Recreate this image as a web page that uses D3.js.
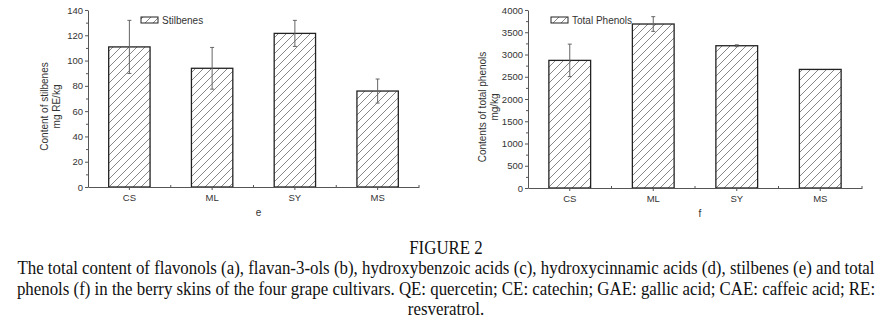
<!DOCTYPE html>
<html>
<head>
<meta charset="utf-8">
<script src="https://cdn.jsdelivr.net/npm/d3@7"></script>
<style>
  body { margin: 0; background: #fff; }
  svg { display: block; }
  .tick text { font-family: "Liberation Sans", Arial, sans-serif; font-size: 9.5px; fill: #333; }
  .lab { font-family: "Liberation Sans", Arial, sans-serif; font-size: 10px; fill: #333; }
  .cap { font-family: "Liberation Serif", "Times New Roman", serif; font-size: 18.5px; fill: #111; }
</style>
</head>
<body>
<div id="box-div"></div>
<script>
// data
const cultivars = ['CS', 'ML', 'SY', 'MS']
const stilbenes = [110.8, 93.9, 121.5, 75.9]
const stilbenesErr = [21, 16.5, 10.3, 9.5]
const totalPhenols = [2868, 3685, 3197, 2665]
const totalPhenolsErr = [365, 165, 20, 0]
const stilbeneTicks = [0, 20, 40, 60, 80, 100, 120, 140]
const phenolTicks = [0, 500, 1000, 1500, 2000, 2500, 3000, 3500, 4000]
const captionLines = [
    'FIGURE 2',
    'The total content of flavonols (a), flavan-3-ols (b), hydroxybenzoic acids (c), hydroxycinnamic acids (d), stilbenes (e) and total',
    'phenols (f) in the berry skins of the four grape cultivars. QE: quercetin; CE: catechin; GAE: gallic acid; CAE: caffeic acid; RE:',
    'resveratrol.'
]

const W = 892, H = 331
const svg = d3.select('#box-div').append('svg')
    .attr('width', W)
    .attr('height', H)

// hatch pattern
const defs = svg.append('defs')
defs.append('pattern')
    .attr('id', 'hatch')
    .attr('patternUnits', 'userSpaceOnUse')
    .attr('width', 8)
    .attr('height', 8)
    .append('path')
    .attr('d', 'M-2,2 L2,-2 M0,8 L8,0 M6,10 L10,6')
    .attr('stroke', '#555')
    .attr('stroke-width', 0.7)

const panel = (opt) => {
    const g = svg.append('g')

    const x = d3.scaleBand()
        .domain(cultivars)
        .range([opt.left, opt.right])
    const y = d3.scaleLinear()
        .domain([0, opt.ticks[opt.ticks.length - 1]])
        .range([opt.bottom, opt.top])

    const rows = cultivars.map((c, i) => ({ c, v: opt.values[i], e: opt.errors[i] }))
    const bw = x.bandwidth() * 0.5

    // bars
    g.selectAll('rect.bar')
        .data(rows)
        .join('rect')
        .attr('class', 'bar')
        .attr('x', d => x(d.c) + x.bandwidth() / 2 - bw / 2)
        .attr('y', d => y(d.v))
        .attr('width', bw)
        .attr('height', d => y(0) - y(d.v))
        .attr('fill', 'url(#hatch)')
        .attr('stroke', '#222')
        .attr('stroke-width', 1.3)

    // error bars
    const eb = g.selectAll('g.err')
        .data(rows.filter(d => d.e > 0))
        .join('g')
        .attr('class', 'err')
        .attr('stroke', '#666')
        .attr('stroke-width', 1)
    eb.append('line')
        .attr('x1', d => x(d.c) + x.bandwidth() / 2)
        .attr('x2', d => x(d.c) + x.bandwidth() / 2)
        .attr('y1', d => y(d.v + d.e))
        .attr('y2', d => y(d.v - d.e))
    eb.append('line')
        .attr('x1', d => x(d.c) + x.bandwidth() / 2 - 2)
        .attr('x2', d => x(d.c) + x.bandwidth() / 2 + 2)
        .attr('y1', d => y(d.v + d.e))
        .attr('y2', d => y(d.v + d.e))
    eb.append('line')
        .attr('x1', d => x(d.c) + x.bandwidth() / 2 - 2)
        .attr('x2', d => x(d.c) + x.bandwidth() / 2 + 2)
        .attr('y1', d => y(d.v - d.e))
        .attr('y2', d => y(d.v - d.e))

    // y axis: major ticks + minor ticks
    const step = opt.ticks[1] - opt.ticks[0]
    const minor = opt.ticks.slice(0, -1).map(t => t + step / 2)
    g.append('g')
        .attr('transform', `translate(${opt.left},0)`)
        .call(d3.axisLeft(y).tickValues(minor).tickSize(2).tickFormat(''))
        .call(a => a.select('.domain').remove())
        .call(a => a.selectAll('line').attr('stroke', '#555'))
    g.append('g')
        .attr('transform', `translate(${opt.left},0)`)
        .call(d3.axisLeft(y).tickValues(opt.ticks).tickFormat(d3.format('d'))
            .tickSize(3).tickSizeOuter(0).tickPadding(2))
        .call(a => a.select('.domain').attr('stroke', '#555'))
        .call(a => a.selectAll('.tick line').attr('stroke', '#555'))

    // x axis
    g.append('g')
        .attr('transform', `translate(0,${opt.bottom})`)
        .call(d3.axisBottom(x).tickSize(3).tickSizeOuter(0).tickPadding(4))
        .call(a => a.select('.domain').attr('stroke', '#555'))
        .call(a => a.selectAll('.tick line').attr('stroke', '#555'))
    // minor ticks at band boundaries (inward)
    g.append('g')
        .selectAll('line')
        .data(cultivars.slice(1).concat(['__end']))
        .join('line')
        .attr('x1', d => d === '__end' ? opt.right : x(d))
        .attr('x2', d => d === '__end' ? opt.right : x(d))
        .attr('y1', opt.bottom)
        .attr('y2', opt.bottom - 2)
        .attr('stroke', '#555')

    // axis titles
    const ty = (opt.top + opt.bottom) / 2
    opt.yTitle.forEach((t, i) => {
        g.append('text')
            .attr('class', 'lab')
            .attr('text-anchor', 'middle')
            .attr('transform', `translate(${opt.yTitleX + i * 12},${ty + 8}) rotate(-90)`)
            .text(t)
    })
    g.append('text')
        .attr('class', 'lab')
        .attr('text-anchor', 'middle')
        .attr('x', (opt.left + opt.right) / 2 + 5)
        .attr('y', opt.bottom + 29)
        .text(opt.xTitle)

    // legend
    g.append('rect')
        .attr('x', opt.legendX)
        .attr('y', opt.top + 7)
        .attr('width', 17)
        .attr('height', 6)
        .attr('fill', 'url(#hatch)')
        .attr('stroke', '#222')
        .attr('stroke-width', 1)
    g.append('text')
        .attr('class', 'lab')
        .attr('x', opt.legendX + 21)
        .attr('y', opt.top + 13.5)
        .text(opt.legend)
}

panel({
    left: 88, right: 419, top: 10, bottom: 187,
    values: stilbenes, errors: stilbenesErr, ticks: stilbeneTicks,
    yTitle: ['Content of stilbenes', 'mg RE/kg'], yTitleX: 48,
    xTitle: 'e', legend: 'Stilbenes', legendX: 141
})
panel({
    left: 528, right: 862, top: 10, bottom: 188,
    values: totalPhenols, errors: totalPhenolsErr, ticks: phenolTicks,
    yTitle: ['Contents of total phenols', 'mg/kg'], yTitleX: 486,
    xTitle: 'f', legend: 'Total Phenols', legendX: 551
})

// caption (condensed serif like the source)
const cap = svg.append('g')
const capText = cap.selectAll('text')
    .data(captionLines)
    .join('text')
    .attr('class', 'cap')
    .attr('text-anchor', 'middle')
    .attr('x', 0)
    .attr('y', (d, i) => 254 + i * 20.5)
    .text(d => d)
const natural = capText.nodes()[1].getComputedTextLength()
const k = 858 / natural
cap.attr('transform', `translate(446,0) scale(${k},1)`)
</script>
</body>
</html>
